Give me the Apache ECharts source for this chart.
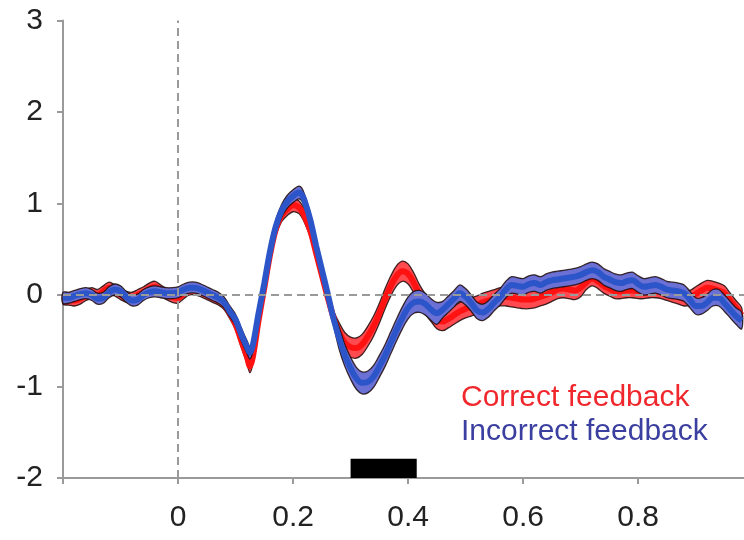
<!DOCTYPE html>
<html><head><meta charset="utf-8">
<script src="https://cdn.jsdelivr.net/npm/echarts@6/dist/echarts.min.js"></script>
<style>html,body{margin:0;padding:0;background:#fff}#c{width:744px;height:540px}</style>
</head><body><div id="c"></div>
<script>
// time (s)
const times = [
-0.20,-0.19,-0.18,-0.17,-0.16,-0.15,-0.14,-0.13,-0.12,-0.11,
-0.10,-0.09,-0.08,-0.07,-0.06,-0.05,-0.04,-0.03,-0.02,-0.01,
0.00,0.01,0.02,0.03,0.04,0.05,0.06,0.07,0.08,0.09,
0.10,0.11,0.12,0.125,0.13,0.14,0.15,0.16,0.17,0.18,
0.19,0.20,0.21,0.215,0.22,0.23,0.24,0.25,0.26,0.27,
0.28,0.29,0.30,0.31,0.32,0.33,0.34,0.35,0.36,0.37,
0.38,0.39,0.40,0.41,0.42,0.43,0.44,0.45,0.46,0.47,
0.48,0.49,0.50,0.51,0.52,0.53,0.54,0.55,0.56,0.57,
0.58,0.59,0.60,0.61,0.62,0.63,0.64,0.65,0.66,0.67,
0.68,0.69,0.70,0.71,0.72,0.73,0.74,0.75,0.76,0.77,
0.78,0.79,0.80,0.81,0.82,0.83,0.84,0.85,0.86,0.87,
0.88,0.89,0.90,0.91,0.92,0.93,0.94,0.95,0.96,0.97,
0.98];
// Correct feedback mean
const correctMean = [
-0.04,-0.05,-0.06,-0.04,0.00,0.02,0.00,0.04,0.08,0.05,
0.01,-0.02,-0.03,0.00,0.03,0.07,0.09,0.05,0.01,-0.02,
-0.03,0.02,0.06,0.06,0.04,0.01,-0.02,-0.05,-0.10,-0.20,
-0.32,-0.50,-0.68,-0.78,-0.68,-0.28,0.08,0.44,0.72,0.87,
0.94,0.98,0.96,0.92,0.86,0.70,0.46,0.22,-0.02,-0.24,
-0.41,-0.52,-0.57,-0.58,-0.54,-0.45,-0.34,-0.20,-0.04,0.10,
0.21,0.26,0.23,0.13,0.00,-0.10,-0.18,-0.26,-0.29,-0.26,
-0.22,-0.18,-0.15,-0.13,-0.11,-0.08,-0.06,-0.04,-0.02,-0.02,
-0.03,-0.04,-0.05,-0.05,-0.04,-0.02,0.00,0.03,0.06,0.07,
0.06,0.05,0.08,0.14,0.18,0.15,0.10,0.07,0.04,0.04,
0.05,0.05,0.04,0.04,0.05,0.05,0.04,0.02,0.00,-0.02,
-0.04,-0.03,0.01,0.05,0.08,0.07,0.05,0.02,-0.06,-0.14,
-0.22];
// Incorrect feedback mean
const incorrectMean = [
-0.03,-0.03,-0.01,0.01,0.02,0.00,-0.04,-0.03,0.03,0.06,
0.04,-0.02,-0.06,-0.05,0.00,0.03,0.04,0.03,0.02,0.02,
0.03,0.06,0.08,0.08,0.06,0.03,0.00,-0.03,-0.08,-0.18,
-0.27,-0.43,-0.57,-0.63,-0.55,-0.20,0.13,0.48,0.75,0.92,
1.02,1.08,1.12,1.10,1.03,0.82,0.54,0.28,0.02,-0.25,
-0.47,-0.66,-0.80,-0.91,-0.96,-0.95,-0.89,-0.78,-0.66,-0.52,
-0.38,-0.25,-0.14,-0.08,-0.07,-0.10,-0.16,-0.20,-0.16,-0.10,
-0.04,0.02,-0.02,-0.09,-0.17,-0.19,-0.15,-0.08,-0.02,0.06,
0.11,0.10,0.09,0.12,0.13,0.11,0.14,0.16,0.17,0.18,
0.19,0.20,0.22,0.25,0.27,0.25,0.20,0.17,0.14,0.13,
0.15,0.16,0.12,0.09,0.10,0.11,0.09,0.06,0.05,0.04,
0.02,-0.05,-0.12,-0.12,-0.08,-0.03,-0.03,-0.09,-0.16,-0.23,
-0.28];
// standard error (half band width)
const correctSem = [
0.06,0.06,0.06,0.06,0.06,0.06,0.06,0.06,0.06,0.06,
0.06,0.06,0.06,0.06,0.06,0.06,0.06,0.06,0.06,0.06,
0.06,0.06,0.06,0.06,0.06,0.06,0.06,0.06,0.06,0.06,
0.06,0.07,0.07,0.07,0.07,0.07,0.07,0.07,0.07,0.07,
0.07,0.07,0.07,0.07,0.07,0.07,0.07,0.07,0.07,0.07,
0.11,0.11,0.11,0.11,0.11,0.11,0.11,0.11,0.11,0.11,
0.11,0.11,0.11,0.11,0.11,0.11,0.11,0.11,0.10,0.10,
0.10,0.10,0.10,0.10,0.10,0.10,0.10,0.10,0.10,0.10,
0.10,0.10,0.10,0.10,0.10,0.10,0.10,0.10,0.10,0.10,
0.10,0.10,0.10,0.08,0.08,0.08,0.08,0.08,0.08,0.08,
0.08,0.08,0.08,0.08,0.08,0.08,0.08,0.08,0.08,0.08,
0.08,0.08,0.08,0.08,0.08,0.08,0.08,0.08,0.08,0.08,
0.08];
const incorrectSem = [
0.06,0.06,0.06,0.06,0.06,0.06,0.06,0.06,0.06,0.06,
0.06,0.06,0.06,0.06,0.06,0.06,0.06,0.06,0.06,0.06,
0.06,0.06,0.06,0.06,0.06,0.06,0.06,0.06,0.06,0.06,
0.06,0.07,0.07,0.07,0.07,0.07,0.07,0.07,0.07,0.07,
0.07,0.07,0.07,0.07,0.07,0.07,0.07,0.07,0.07,0.07,
0.12,0.12,0.12,0.12,0.12,0.12,0.12,0.12,0.12,0.12,
0.12,0.12,0.12,0.12,0.12,0.12,0.12,0.12,0.09,0.09,
0.09,0.09,0.09,0.09,0.09,0.09,0.09,0.09,0.09,0.09,
0.09,0.09,0.09,0.09,0.09,0.09,0.09,0.09,0.09,0.09,
0.09,0.09,0.09,0.09,0.09,0.09,0.09,0.09,0.09,0.09,
0.09,0.09,0.09,0.09,0.09,0.09,0.09,0.09,0.09,0.09,
0.09,0.09,0.09,0.09,0.09,0.09,0.09,0.09,0.09,0.09,
0.09];
const seriesNames = ['Correct feedback', 'Incorrect feedback'];
const xTickLabels = ['0', '0.2', '0.4', '0.6', '0.8'];
const yTickLabels = ['-2', '-1', '0', '1', '2', '3'];
// significance window [start, end, bottom, top]
const sigWindow = [[0.30, 0.415, -2, -1.79]];

const FONT = '"Liberation Sans", Arial, sans-serif';
const AXIS_COLOR = '#9a9a9a';

function bandSeries(name, mean, sem, bandColor, lineColor, z) {
  const band = {
    name: name + ' band', type: 'custom', data: [[0, 0]], z: z, silent: true,
    renderItem: function (params, api) {
      const up = times.map((t, i) => api.coord([t, mean[i] + sem[i]]));
      const lo = times.map((t, i) => api.coord([t, mean[i] - sem[i]]));
      const poly = up.concat(lo.slice().reverse());
      return {
        type: 'group',
        children: [
          { type: 'polygon', shape: { points: poly, smooth: 0.35 },
            style: { fill: bandColor, stroke: 'rgba(30,10,10,0.85)', lineWidth: 1.3 } }
        ]
      };
    }
  };
  const meanLine = {
    name: name, type: 'line', data: times.map((t, i) => [t, mean[i]]),
    smooth: 0.35, symbol: 'none', lineStyle: { color: lineColor, width: 6 }, z: z, silent: true
  };
  return [band, meanLine];
}

const chart = echarts.init(document.getElementById('c'), null, { renderer: 'canvas' });
const series = [
  {
    type: 'line', data: [], z: 1, silent: true,
    markLine: {
      silent: true, symbol: 'none', label: { show: false },
      lineStyle: { color: '#9a9a9a', type: [8, 5], width: 2 },
      data: [{ xAxis: 0 }, { yAxis: 0 }]
    }
  }
].concat(
  bandSeries(seriesNames[0], correctMean, correctSem, '#ff4a50', '#ff1212', 2),
  bandSeries(seriesNames[1], incorrectMean, incorrectSem, '#6a70d4', '#2c55c9', 3),
  [{
    type: 'custom', data: sigWindow, z: 5, silent: true,
    renderItem: function (params, api) {
      const p0 = api.coord([api.value(0), api.value(3)]);
      const p1 = api.coord([api.value(1), api.value(2)]);
      return { type: 'rect', shape: { x: p0[0], y: p0[1], width: p1[0] - p0[0], height: p1[1] - p0[1] },
        style: { fill: '#000' } };
    }
  }]
);

chart.setOption({
  animation: false,
  backgroundColor: '#fff',
  grid: { left: 63, top: 20.5, right: 0, bottom: 62, containLabel: false },
  xAxis: {
    type: 'value', min: -0.2, max: 0.984, interval: 0.2,
    axisLine: { show: true, onZero: false, lineStyle: { color: AXIS_COLOR, width: 2 } },
    axisTick: { show: true, length: 6, lineStyle: { color: AXIS_COLOR, width: 2 } },
    splitLine: { show: false },
    axisLabel: {
      margin: 25, color: '#222', fontSize: 30, fontFamily: FONT, showMaxLabel: false,
      formatter: function (v) {
        for (const l of xTickLabels) if (Math.abs(Number(l) - v) < 1e-6) return l;
        return '';
      }
    }
  },
  yAxis: {
    type: 'value', min: -2, max: 3, interval: 1,
    axisLine: { show: true, onZero: false, lineStyle: { color: AXIS_COLOR, width: 2 } },
    axisTick: { show: true, length: 6, lineStyle: { color: AXIS_COLOR, width: 2 } },
    splitLine: { show: false },
    axisLabel: {
      margin: 20, color: '#222', fontSize: 30, fontFamily: FONT,
      formatter: function (v) {
        for (const l of yTickLabels) if (Math.abs(Number(l) - v) < 1e-6) return l;
        return '';
      }
    }
  },
  graphic: [
    { type: 'text', left: 461, top: 383, silent: true,
      style: { text: seriesNames[0], fill: '#f0282d', fontSize: 30, fontFamily: FONT } },
    { type: 'text', left: 461, top: 417, silent: true,
      style: { text: seriesNames[1], fill: '#3b3fa0', fontSize: 30, fontFamily: FONT } }
  ],
  series: series
});
</script>
</body></html>
